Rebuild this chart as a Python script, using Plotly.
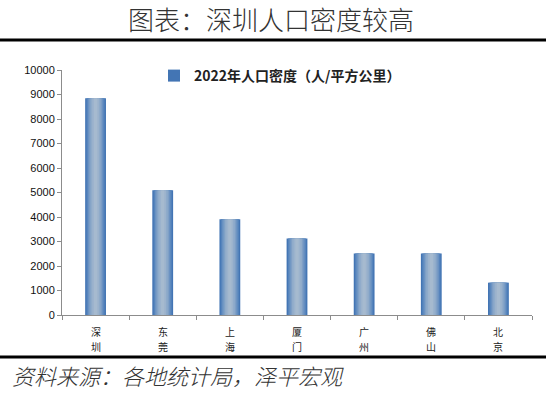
import plotly.graph_objects as go

cities = ["深圳", "东莞", "上海", "厦门", "广州", "佛山", "北京"]
density = [8850, 5090, 3910, 3125, 2515, 2515, 1320]
series_name = "2022年人口密度（人/平方公里）"
y_ticks = [0, 1000, 2000, 3000, 4000, 5000, 6000, 7000, 8000, 9000, 10000]
y_tick_text = [str(v) for v in y_ticks]

W, H = 546, 393
ML, MR, MT, MB = 62, 14, 70, 78
PW, PH = W - ML - MR, H - MT - MB

def px_x(x):
    return (x - ML) / PW

def px_y(y):
    return (H - MB - y) / PH

fig = go.Figure()
layers = [
    (0.31, "#4375B4"),
    (0.27, "#5684BC"),
    (0.23, "#6A92C2"),
    (0.19, "#7E9FC6"),
    (0.15, "#8FABCA"),
    (0.10, "#9CB3CD"),
    (0.05, "#A6BACF"),
]
for i, (w, c) in enumerate(layers):
    fig.add_trace(go.Bar(
        x=cities, y=density, width=w, marker=dict(color=c, line=dict(width=0)),
        name=series_name, showlegend=(i == 0), hoverinfo="skip",
    ))

annotations = [
    dict(text="图表：深圳人口密度较高", xref="paper", yref="paper",
         x=px_x(271), y=px_y(19), xanchor="center", yanchor="middle",
         showarrow=False,
         font=dict(family="Noto Sans CJK SC", size=26, color="#333", weight=300)),
    dict(text="<i>资料来源：各地统计局，泽平宏观</i>", xref="paper", yref="paper",
         x=px_x(10), y=px_y(375), xanchor="left", yanchor="middle",
         showarrow=False,
         font=dict(family="Noto Sans CJK SC", size=22, color="#333", weight=300)),
]
for c in cities:
    for j, ch in enumerate(c):
        annotations.append(dict(
            text=ch, x=c, xref="x", yref="paper", y=px_y(331 + 15 * j),
            xanchor="center", yanchor="middle", showarrow=False,
            font=dict(family="Noto Sans CJK SC", size=10, color="#222"),
        ))

fig.update_layout(
    width=W, height=H, barmode="overlay",
    margin=dict(l=ML, r=MR, t=MT, b=MB),
    paper_bgcolor="white", plot_bgcolor="white",
    showlegend=True,
    legend=dict(
        x=px_x(154), y=px_y(60), xanchor="left", yanchor="top",
        orientation="h", bgcolor="rgba(0,0,0,0)",
        font=dict(family="Noto Sans CJK SC", size=14, color="#222", weight="bold"),
        itemwidth=30, itemsizing="constant",
    ),
    xaxis=dict(
        showline=True, linecolor="#8C8C8C", linewidth=1,
        ticks="outside", tickson="boundaries", ticklen=4, tickcolor="#8C8C8C",
        showticklabels=False, automargin=False,
        showgrid=False,
    ),
    yaxis=dict(
        range=[0, 10000], tickvals=y_ticks, ticktext=y_tick_text,
        showline=True, linecolor="#8C8C8C", linewidth=1,
        ticks="outside", ticklen=4, tickcolor="#8C8C8C",
        tickfont=dict(family="Liberation Sans", size=11, color="#111"),
        showgrid=False, zeroline=False, automargin=False,
    ),
    shapes=[
        dict(type="line", xref="paper", yref="paper", x0=px_x(0), x1=px_x(W),
             y0=px_y(40), y1=px_y(40), line=dict(color="black", width=3)),
        dict(type="line", xref="paper", yref="paper", x0=px_x(0), x1=px_x(W),
             y0=px_y(357), y1=px_y(357), line=dict(color="black", width=3)),
    ],
    annotations=annotations,
)

fig.write_html(
    "out.html",
    config={"displayModeBar": False, "staticPlot": True},
    post_script="document.body.style.margin='0px';document.body.style.overflow='hidden';",
)
